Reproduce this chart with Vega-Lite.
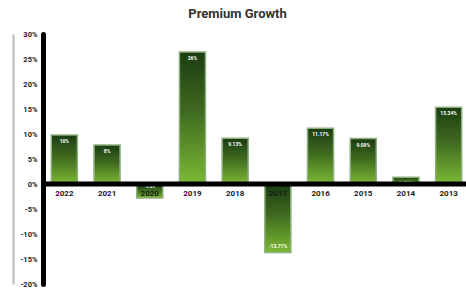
{
  "$schema": "https://vega.github.io/schema/vega-lite/v6.json",
  "width": 427,
  "height": 250,
  "autosize": {"type": "none"},
  "padding": {"left": 43, "top": 34, "right": 0, "bottom": 7},
  "background": "white",
  "title": {"text": "Premium Growth", "font": "Roboto", "fontSize": 13, "fontWeight": "bold", "color": "#333333", "anchor": "middle", "frame": "group", "dx": -19, "offset": 9},
  "config": {"view": {"stroke": null}},
  "data": {"values": [
    {"year": "2022", "value": 9.8, "label": "10%"},
    {"year": "2021", "value": 7.8, "label": "8%"},
    {"year": "2020", "value": -2.8, "label": "-2.8%"},
    {"year": "2019", "value": 26.4, "label": "26%"},
    {"year": "2018", "value": 9.13, "label": "9.13%"},
    {"year": "2017", "value": -13.71, "label": "-13.71%"},
    {"year": "2016", "value": 11.17, "label": "11.17%"},
    {"year": "2015", "value": 9.09, "label": "9.09%"},
    {"year": "2014", "value": 1.35, "label": "1.35%"},
    {"year": "2013", "value": 15.34, "label": "15.34%"}
  ]},
  "resolve": {"axis": {"y": "independent"}},
  "layer": [
    {
      "mark": {"type": "bar", "fill": {"gradient": "linear", "x1": 0, "y1": 0, "x2": 0, "y2": 1, "stops": [{"offset": 0, "color": "#1a3d12"}, {"offset": 0.45, "color": "#3f6a1f"}, {"offset": 1, "color": "#7cb935"}]}, "stroke": "#8fae7e", "strokeWidth": 1.5},
      "encoding": {
        "x": {"field": "year", "type": "nominal", "sort": null, "scale": {"paddingInner": 0.39, "paddingOuter": 0.195}, "axis": null},
        "y": {"field": "value", "type": "quantitative", "scale": {"domain": [-20, 30], "nice": false},
          "axis": {"title": null, "values": [-20, -15, -10, -5, 0, 5, 10, 15, 20, 25, 30], "labelExpr": "datum.value + '%'", "grid": false, "ticks": false, "domainColor": "black", "domainWidth": 5, "domainCap": "round", "labelFont": "Roboto", "labelFontSize": 7.5, "labelFontWeight": "bold", "labelColor": "#222222", "labelPadding": 6}}
      }
    },
    {
      "transform": [{"filter": "datum.value >= 0"}],
      "mark": {"type": "text", "color": "white", "font": "Roboto", "fontSize": 5, "fontWeight": "bold", "baseline": "top", "dy": 4},
      "encoding": {
        "x": {"field": "year", "type": "nominal", "sort": null, "scale": {"paddingInner": 0.39, "paddingOuter": 0.195}, "axis": null},
        "y": {"field": "value", "type": "quantitative", "axis": null},
        "text": {"field": "label"}
      }
    },
    {
      "transform": [{"filter": "datum.value < -5"}],
      "mark": {"type": "text", "color": "white", "font": "Roboto", "fontSize": 5, "fontWeight": "bold", "baseline": "bottom", "dy": -4},
      "encoding": {
        "x": {"field": "year", "type": "nominal", "sort": null, "scale": {"paddingInner": 0.39, "paddingOuter": 0.195}, "axis": null},
        "y": {"field": "value", "type": "quantitative", "axis": null},
        "text": {"field": "label"}
      }
    },
    {
      "transform": [{"filter": "datum.value < 0 && datum.value >= -5"}],
      "mark": {"type": "text", "color": "white", "font": "Roboto", "fontSize": 4, "fontWeight": "bold", "baseline": "top", "dy": 1},
      "encoding": {
        "x": {"field": "year", "type": "nominal", "sort": null, "scale": {"paddingInner": 0.39, "paddingOuter": 0.195}, "axis": null},
        "y": {"datum": 0, "type": "quantitative", "axis": null},
        "text": {"field": "label"}
      }
    },
    {
      "data": {"values": [{"z": 0}]},
      "mark": {"type": "rule", "color": "black", "strokeWidth": 5},
      "encoding": {
        "y": {"field": "z", "type": "quantitative", "scale": {"domain": [-20, 30], "nice": false},
          "axis": {"orient": "left", "offset": 30, "title": null, "labels": false, "ticks": false, "grid": false, "domainColor": "#bbbbbb", "domainWidth": 2}}
      }
    },
    {
      "mark": {"type": "text", "color": "#1a1a1a", "font": "Roboto", "fontSize": 8, "fontWeight": "bold", "baseline": "middle", "dy": 10},
      "encoding": {
        "x": {"field": "year", "type": "nominal", "sort": null, "scale": {"paddingInner": 0.39, "paddingOuter": 0.195}, "axis": null},
        "y": {"datum": 0, "type": "quantitative", "axis": null},
        "text": {"field": "year"}
      }
    }
  ]
}
